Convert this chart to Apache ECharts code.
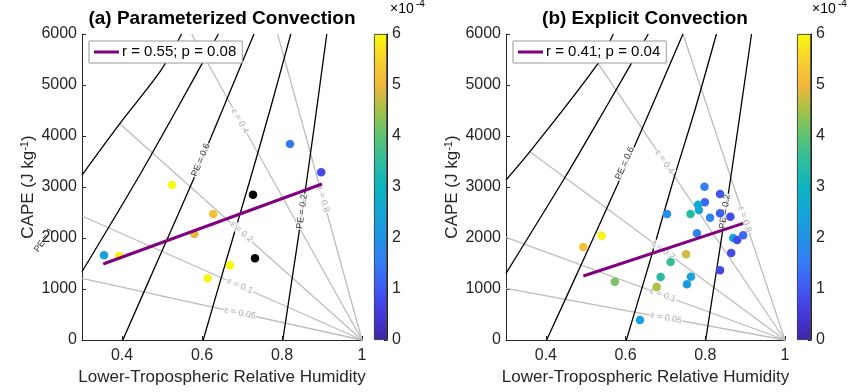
<!DOCTYPE html>
<html><head><meta charset="utf-8">
<script src="https://cdn.jsdelivr.net/npm/echarts@6/dist/echarts.min.js"></script>
<style>html,body{margin:0;padding:0;background:#fff}#c{width:857px;height:392px}</style>
</head><body><div id="c"></div><script>
const FONT = '"Liberation Sans", Arial, sans-serif';
const AX = '#262626';

// ---------- Panel (a) Parameterized Convection ----------
const rhA    = [0.820, 0.898, 0.525, 0.7275, 0.628, 0.581, 0.355, 0.3925, 0.7325, 0.670, 0.614];
const capeA  = [3843, 3288, 3039, 2849, 2470, 2078, 1660, 1647, 1601, 1464, 1209];
const colorA = [1.4, 0.8, 6.0, null, 5.2, 4.9, 2.4, 5.9, null, 6.0, 5.9]; // x1e-4, null = black
const fitA   = [[0.353, 1490], [0.900, 3059]];
const fitNameA = 'r = 0.55; p = 0.08';

// PE contours (a)
const peA_10 = [[0.300, 3235], [0.395, 4249], [0.495, 5261], [0.549, 6000]];
const peA_08 = [[0.300, 1339], [0.437, 3137], [0.536, 4510], [0.641, 6000]];
const peA_06 = [[0.402, 0], [0.490, 1569], [0.578, 3137], [0.651, 4510], [0.730, 6000]];
const peA_04 = [[0.603, 0], [0.661, 1569], [0.720, 3137], [0.770, 4510], [0.822, 6000]];
const peA_02 = [[0.802, 0], [0.862, 3137], [0.912, 6000]];
// entrainment lines (a)
const epsA_005 = [[0.300, 1209], [1, 0]];
const epsA_01  = [[0.300, 2431], [1, 0]];
const epsA_02  = [[0.395, 4235], [1, 0]];
const epsA_04  = [[0.574, 6000], [1, 0]];
const epsA_08  = [[0.789, 6000], [1, 0]];

// ---------- Panel (b) Explicit Convection ----------
const rhB    = [0.798, 0.837, 0.799, 0.782, 0.784, 0.704, 0.763, 0.837, 0.863, 0.812, 0.779, 0.870, 0.880,
                0.895, 0.540, 0.494, 0.752, 0.865, 0.713, 0.837, 0.573, 0.688, 0.764, 0.754, 0.678, 0.636];
const capeB  = [3006, 2863, 2699, 2653, 2549, 2470, 2470, 2484, 2418, 2399, 2092, 2000, 1961,
                2053, 2045, 1824, 1680, 1706, 1529, 1366, 1144, 1235, 1242, 1091, 1039, 392];
const colorB = [1.6, 1.0, 1.2, 2.7, 2.5, 1.9, 3.4, 1.1, 0.8, 1.7, 1.8, 2.4, 0.8,
                1.2, 5.9, 5.2, 4.8, 0.8, 3.6, 0.7, 4.2, 3.4, 2.4, 2.2, 4.6, 2.3];
const fitB   = [[0.494, 1255], [0.895, 2288]];
const fitNameB = 'r = 0.41; p = 0.04';

const peB_10 = [[0.300, 3137], [0.360, 3692], [0.531, 5425], [0.569, 6000]];
const peB_08 = [[0.300, 1308], [0.444, 3137], [0.547, 4510], [0.657, 6000]];
const peB_06 = [[0.402, 0], [0.494, 1569], [0.585, 3137], [0.662, 4510], [0.744, 6000]];
const peB_04 = [[0.602, 0], [0.662, 1569], [0.720, 3137], [0.774, 4510], [0.828, 6000]];
const peB_02 = [[0.801, 0], [0.863, 3137], [0.916, 6000]];
const epsB_005 = [[0.300, 1014], [1, 0]];
const epsB_01  = [[0.300, 2014], [1, 0]];
const epsB_02  = [[0.360, 3692], [1, 0]];
const epsB_04  = [[0.531, 5425], [1, 0]];
const epsB_08  = [[0.744, 6000], [1, 0]];

// contour labels: [text, rh, cape, rotation, kind]
const labelsA = [
  ['PE = 0.6', 0.597, 3529, 67, 'pe'], ['PE = 0.2', 0.850, 2516, 82, 'pe'], ['PE = 1', 0.205, 1961, 55, 'pe'],
  ['\u03b5 = 0.4', 0.695, 4296, -61, 'eps'], ['\u03b5 = 0.8', 0.903, 2758, -75, 'eps'],
  ['\u03b5 = 0.2', 0.699, 2120, -42, 'eps'], ['\u03b5 = 0.1', 0.695, 1059, -24, 'eps'],
  ['\u03b5 = 0.05', 0.695, 527, -12, 'eps']
];
const labelsB = [
  ['PE = 0.6', 0.598, 3465, 66, 'pe'], ['PE = 0.2', 0.849, 2516, 81.5, 'pe'],
  ['\u03b5 = 0.4', 0.698, 3493, -56, 'eps'], ['\u03b5 = 0.8', 0.899, 2367, -72, 'eps'],
  ['\u03b5 = 0.2', 0.694, 1765, -36, 'eps'], ['\u03b5 = 0.1', 0.694, 880, -20, 'eps'],
  ['\u03b5 = 0.05', 0.702, 432, -10.5, 'eps']
];

const xTicks = [0.4, 0.6, 0.8, 1];
const cbTicks = [0, 1, 2, 3, 4, 5, 6];

const parula = ['#3e26a8', '#4538d8', '#4058f2', '#357cf5', '#2192e5', '#14a6d6', '#0db4bf',
                '#2ebd9e', '#5cc474', '#a4c246', '#f2b63c', '#f6d12e', '#f9fb0e'];

// ---------- build ----------
const chart = echarts.init(document.getElementById('c'), null, {renderer: 'canvas'});
const grids = [
  {left: 82, top: 34, width: 280, height: 306},
  {left: 506, top: 34, width: 279, height: 306},
  {left: 374, top: 34, width: 13, height: 306},
  {left: 797, top: 34, width: 14, height: 306}
];

function mainX(i) {
  return {gridIndex: i, type: 'value', min: 0.3, max: 1, splitLine: {show: false},
    axisLine: {lineStyle: {color: AX, width: 1}},
    axisTick: {inside: true, length: 4, customValues: xTicks, lineStyle: {color: AX}},
    axisLabel: {customValues: xTicks, fontSize: 16, color: AX, fontFamily: FONT, margin: 8,
      formatter: v => String(+(+v).toFixed(1))},
    name: 'Lower-Tropospheric Relative Humidity', nameLocation: 'middle', nameGap: 28,
    nameTextStyle: {fontSize: 17, color: AX, fontFamily: FONT}};
}
function mainY(i) {
  return {gridIndex: i, type: 'value', min: 0, max: 6000, interval: 1000, splitLine: {show: false},
    axisLine: {show: true, lineStyle: {color: AX, width: 1}},
    axisTick: {show: true, inside: true, length: 4, lineStyle: {color: AX}},
    axisLabel: {fontSize: 16, color: AX, fontFamily: FONT, margin: 5, formatter: v => String(v)},
    name: '{n|CAPE (J kg}{s|-1}{n|)}', nameLocation: 'middle', nameGap: 44, nameRotate: 90,
    nameTextStyle: {color: AX, fontFamily: FONT,
      rich: {n: {fontSize: 17, color: AX, fontFamily: FONT},
             s: {fontSize: 11, color: AX, fontFamily: FONT, padding: [0, 0, 8, 0]}}}};
}
function cbX(i) { return {gridIndex: i, type: 'category', data: ['c'], show: false}; }
function cbY(i) {
  return {gridIndex: i, type: 'value', position: 'right', min: 0, max: 6, interval: 1,
    splitLine: {show: false},
    axisLine: {show: true, lineStyle: {color: AX, width: 1}},
    axisTick: {show: true, inside: true, length: 3, lineStyle: {color: AX}},
    axisLabel: {fontSize: 16, color: AX, fontFamily: FONT, margin: 5}};
}

const series = [];
function addLine(data, ax, color, w) {
  series.push({type: 'line', xAxisIndex: ax, yAxisIndex: ax, data: data, showSymbol: false, symbol: 'none',
    smooth: 0.3, lineStyle: {color: color, width: w}, silent: true, z: 1, clip: true});
}
function addPanel(ax, pes, epss, labels, rh, cape, col, fit, fitName) {
  epss.forEach(d => addLine(d, ax, '#bdbdbd', 1.3));
  pes.forEach(d => addLine(d, ax, '#000000', 1.3));
  series.push({type: 'scatter', xAxisIndex: ax, yAxisIndex: ax, symbolSize: 0, silent: true, z: 2, clip: false,
    data: labels.map(l => ({value: [l[1], l[2]], label: {show: true, position: 'inside', formatter: l[0], rotate: l[3],
      color: l[4] === 'pe' ? '#000' : '#9a9a9a', fontSize: 9, fontFamily: FONT,
      backgroundColor: l[0] === 'PE = 1' ? 'transparent' : '#fff', padding: [0, 1]}}))});
  const colored = [], black = [];
  rh.forEach((x, i) => { if (col[i] === null) black.push([x, cape[i]]); else colored.push([x, cape[i], col[i]]); });
  series.push({type: 'scatter', xAxisIndex: ax, yAxisIndex: ax, data: colored, symbolSize: 8.5, z: 3,
    itemStyle: {opacity: 1}});
  const colIdx = series.length - 1;
  series.push({type: 'scatter', xAxisIndex: ax, yAxisIndex: ax, data: black, symbolSize: 8.5, z: 3,
    itemStyle: {color: '#000', opacity: 1}});
  series.push({type: 'line', name: fitName, xAxisIndex: ax, yAxisIndex: ax, data: fit, showSymbol: false,
    symbol: 'none', lineStyle: {color: '#800080', width: 3}, itemStyle: {color: '#800080'}, z: 4});
  return colIdx;
}
const sA = addPanel(0, [peA_10, peA_08, peA_06, peA_04, peA_02], [epsA_005, epsA_01, epsA_02, epsA_04, epsA_08],
  labelsA, rhA, capeA, colorA, fitA, fitNameA);
const sB = addPanel(1, [peB_10, peB_08, peB_06, peB_04, peB_02], [epsB_005, epsB_01, epsB_02, epsB_04, epsB_08],
  labelsB, rhB, capeB, colorB, fitB, fitNameB);

const grad = new echarts.graphic.LinearGradient(0, 1, 0, 0,
  parula.map((c, i) => ({offset: i / (parula.length - 1), color: c})));
[2, 3].forEach(ax => series.push({type: 'bar', xAxisIndex: ax, yAxisIndex: ax, data: [cbTicks[cbTicks.length - 1]],
  barWidth: '100%', silent: true, itemStyle: {color: grad, borderColor: AX, borderWidth: 0.8}}));

function legend(name, left) {
  return {data: [name], left: left, top: 41, orient: 'horizontal', icon: 'rect', itemWidth: 25, itemHeight: 3,
    itemGap: 0, padding: [3, 6, 3, 5], borderColor: '#999', borderWidth: 1, backgroundColor: '#fff',
    selectedMode: false, textStyle: {fontSize: 15, color: '#000', fontFamily: FONT, lineHeight: 16, padding: [0, 0, 0, -2]}};
}

function txt(x, y, s, font, align) {
  return {type: 'text', x: x, y: y, silent: true,
    style: {text: s, font: font, fill: '#000', textAlign: align || 'left', textVerticalAlign: 'middle'}};
}

chart.setOption({
  animation: false,
  backgroundColor: '#fff',
  grid: grids,
  xAxis: [mainX(0), mainX(1), cbX(2), cbX(3)],
  yAxis: [mainY(0), mainY(1), cbY(2), cbY(3)],
  visualMap: [{type: 'continuous', show: false, seriesIndex: [sA, sB], dimension: 2, min: 0, max: 6,
    inRange: {color: parula}}],
  legend: [legend(fitNameA, 89), legend(fitNameB, 513)],
  graphic: [
    txt(222, 19, '(a) Parameterized Convection', 'bold 19px ' + FONT, 'center'),
    txt(645, 19, '(b) Explicit Convection', 'bold 19px ' + FONT, 'center'),
    txt(390, 9, '\u00d710', '14px ' + FONT), txt(416, 4, '-4', '10px ' + FONT),
    txt(812, 9, '\u00d710', '14px ' + FONT), txt(838, 4, '-4', '10px ' + FONT)
  ],
  series: series
});
</script></body></html>
